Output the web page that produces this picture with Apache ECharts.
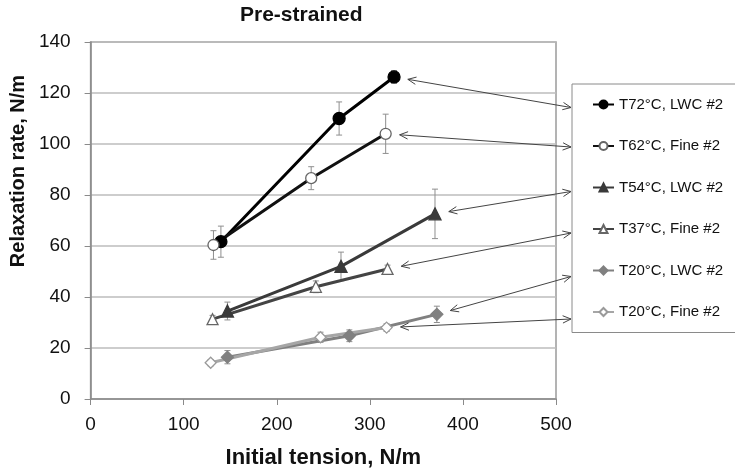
<!DOCTYPE html>
<html>
<head>
<meta charset="utf-8">
<script src="https://cdn.jsdelivr.net/npm/echarts@6/dist/echarts.min.js"></script>
<style>
    html, body { margin: 0; padding: 0; background: #fff; }
    #main { width: 735px; height: 474px; }
</style>
</head>
<body>
<div id="main"></div>
<script>
// values: x = initial tension (N/m), y = relaxation rate (N/m), e = +/- error
const names = ['T72°C, LWC #2', 'T62°C, Fine #2', 'T54°C, LWC #2', 'T37°C, Fine #2', 'T20°C, LWC #2', 'T20°C, Fine #2']

const t72x = [140, 267, 326]
const t72y = [61.7, 110, 126.3]
const t72e = [6.1, 6.5, 2.5]

const t62x = [132, 237, 317]
const t62y = [60.4, 86.6, 104]
const t62e = [5.6, 4.5, 7.7]

const t54x = [147, 269, 370]
const t54y = [34.5, 52, 72.6]
const t54e = [3.5, 5.6, 9.7]

const t37x = [131, 242, 319]
const t37y = [31.3, 44, 51]
const t37e = [1.5, 2.3, 1.5]

const t20lx = [147, 278, 372]
const t20ly = [16.4, 24.8, 33.2]
const t20le = [2.6, 2.3, 3.2]

const t20fx = [129, 247, 318]
const t20fy = [14.2, 24.2, 28]
const t20fe = [1.2, 2, 1.5]

const xTicks = [0, 100, 200, 300, 400, 500]
const yTicks = [0, 20, 40, 60, 80, 100, 120, 140]

const font = 'Liberation Sans, Arial, sans-serif'

// legend box layout (pixels)
const legendLeft = 572
const legendTop = 84
const legendPadTop = 13
const legendItemH = 15
const legendGap = 26.5

let myChart = echarts.init(document.getElementById('main'))

function pts (xs, ys) {
    return xs.map((x, i) => [x, ys[i]])
}
function errs (xs, ys, es) {
    return xs.map((x, i) => [x, ys[i] - es[i], ys[i] + es[i]])
}

function renderError (params, api) {
    let x = api.value(0)
    let lo = api.coord([x, api.value(1)])
    let hi = api.coord([x, api.value(2)])
    let w = 3
    let st = {stroke: '#8f8f8f', lineWidth: 1}
    return {
        type: 'group',
        children: [
            {type: 'line', shape: {x1: lo[0], y1: lo[1], x2: hi[0], y2: hi[1]}, style: st},
            {type: 'line', shape: {x1: lo[0] - w, y1: lo[1], x2: lo[0] + w, y2: lo[1]}, style: st},
            {type: 'line', shape: {x1: hi[0] - w, y1: hi[1], x2: hi[0] + w, y2: hi[1]}, style: st}
        ]
    }
}

function lineSeries (name, data, color, symbol, fill, border, size) {
    return {
        name: name,
        type: 'line',
        data: data,
        z: 3,
        symbol: symbol,
        symbolSize: size,
        showAllSymbol: true,
        lineStyle: {color: color, width: 3},
        itemStyle: {color: fill, borderColor: border, borderWidth: 1.3},
        emphasis: {disabled: true},
        animation: false
    }
}

function errSeries (data) {
    return {
        type: 'custom',
        data: data,
        z: 1,
        renderItem: renderError,
        animation: false,
        silent: true
    }
}

let option = {
    backgroundColor: '#fff',
    title: {
        text: 'Pre-strained',
        left: 240,
        top: 5,
        padding: 0,
        textStyle: {fontFamily: font, fontSize: 21, fontWeight: 'bold', color: '#111'}
    },
    legend: {
        data: names,
        orient: 'vertical',
        left: legendLeft,
        top: legendTop,
        padding: [legendPadTop, 40, 13, 20],
        itemGap: legendGap,
        itemWidth: 21,
        itemHeight: 10,
        borderColor: '#8a8a8a',
        borderWidth: 1,
        textStyle: {fontFamily: font, fontSize: 15, color: '#111', lineHeight: legendItemH}
    },
    grid: {
        left: 89,
        right: 179,
        top: 42,
        bottom: 70,
        show: true,
        borderColor: '#9a9a9a',
        borderWidth: 1.5
    },
    xAxis: {
        type: 'value',
        min: xTicks[0],
        max: xTicks[xTicks.length - 1],
        interval: 100,
        name: 'Initial tension, N/m',
        nameLocation: 'middle',
        nameGap: 48,
        nameTextStyle: {fontFamily: font, fontSize: 22, fontWeight: 'bold', color: '#111'},
        axisLine: {lineStyle: {color: '#8a8a8a', width: 1.5}},
        axisTick: {show: true, length: 6, lineStyle: {color: '#8a8a8a'}},
        axisLabel: {fontFamily: font, fontSize: 19, color: '#111', margin: 16},
        splitLine: {show: false}
    },
    yAxis: {
        type: 'value',
        min: yTicks[0],
        max: yTicks[yTicks.length - 1],
        interval: 20,
        name: 'Relaxation rate, N/m',
        nameLocation: 'middle',
        nameGap: 58,
        nameTextStyle: {fontFamily: font, fontSize: 20, fontWeight: 'bold', color: '#111', padding: [0, 0, 0, 99]},
        axisLine: {show: true, lineStyle: {color: '#8a8a8a', width: 1.5}},
        axisTick: {show: true, length: 6, lineStyle: {color: '#8a8a8a'}},
        axisLabel: {fontFamily: font, fontSize: 19, color: '#111', margin: 20},
        splitLine: {show: true, lineStyle: {color: '#bcbcbc', width: 1.5}}
    },
    series: [
        lineSeries(names[0], pts(t72x, t72y), '#000', 'circle', '#000', '#000', 12),
        lineSeries(names[1], pts(t62x, t62y), '#111', 'circle', '#fff', '#666', 11),
        lineSeries(names[2], pts(t54x, t54y), '#3a3a3a', 'triangle', '#3a3a3a', '#3a3a3a', 12),
        lineSeries(names[3], pts(t37x, t37y), '#444', 'triangle', '#fff', '#666', 11),
        lineSeries(names[4], pts(t20lx, t20ly), '#808080', 'diamond', '#808080', '#808080', 12),
        lineSeries(names[5], pts(t20fx, t20fy), '#a6a6a6', 'diamond', '#fff', '#9a9a9a', 11),
        errSeries(errs(t72x, t72y, t72e)),
        errSeries(errs(t62x, t62y, t62e)),
        errSeries(errs(t54x, t54y, t54e)),
        errSeries(errs(t37x, t37y, t37e)),
        errSeries(errs(t20lx, t20ly, t20le)),
        errSeries(errs(t20fx, t20fy, t20fe))
    ]
}
myChart.setOption(option)

// double-headed arrows from each series' last point to its legend entry
let lastPts = [
    [t72x[2], t72y[2]], [t62x[2], t62y[2]], [t54x[2], t54y[2]],
    [t37x[2], t37y[2]], [t20lx[2], t20ly[2]], [t20fx[2], t20fy[2]]
]
let legendDy = [3, 1, 4, 4, 6, 7]

function head (tip, from, len) {
    let dx = from[0] - tip[0]
    let dy = from[1] - tip[1]
    let d = Math.sqrt(dx * dx + dy * dy)
    let ux = dx / d
    let uy = dy / d
    let a = 0.42
    let p1 = [tip[0] + len * (ux * Math.cos(a) - uy * Math.sin(a)), tip[1] + len * (ux * Math.sin(a) + uy * Math.cos(a))]
    let p2 = [tip[0] + len * (ux * Math.cos(-a) - uy * Math.sin(-a)), tip[1] + len * (ux * Math.sin(-a) + uy * Math.cos(-a))]
    return [p1, tip, p2]
}

let graphics = []
lastPts.forEach((p, i) => {
    let pp = myChart.convertToPixel({xAxisIndex: 0, yAxisIndex: 0}, p)
    let ly = legendTop + legendPadTop + i * (legendItemH + legendGap) + legendItemH / 2 + legendDy[i]
    let b = [legendLeft - 1, ly]
    let dx = b[0] - pp[0]
    let dy = b[1] - pp[1]
    let d = Math.sqrt(dx * dx + dy * dy)
    let a = [pp[0] + 14 * dx / d, pp[1] + 14 * dy / d]
    let st = {stroke: '#444', lineWidth: 1, fill: null}
    graphics.push({type: 'line', shape: {x1: a[0], y1: a[1], x2: b[0], y2: b[1]}, style: st, z: 10})
    graphics.push({type: 'polyline', shape: {points: head(a, b, 9)}, style: st, z: 10})
    graphics.push({type: 'polyline', shape: {points: head(b, a, 9)}, style: st, z: 10})
})
myChart.setOption({graphic: graphics})
</script>
</body>
</html>
